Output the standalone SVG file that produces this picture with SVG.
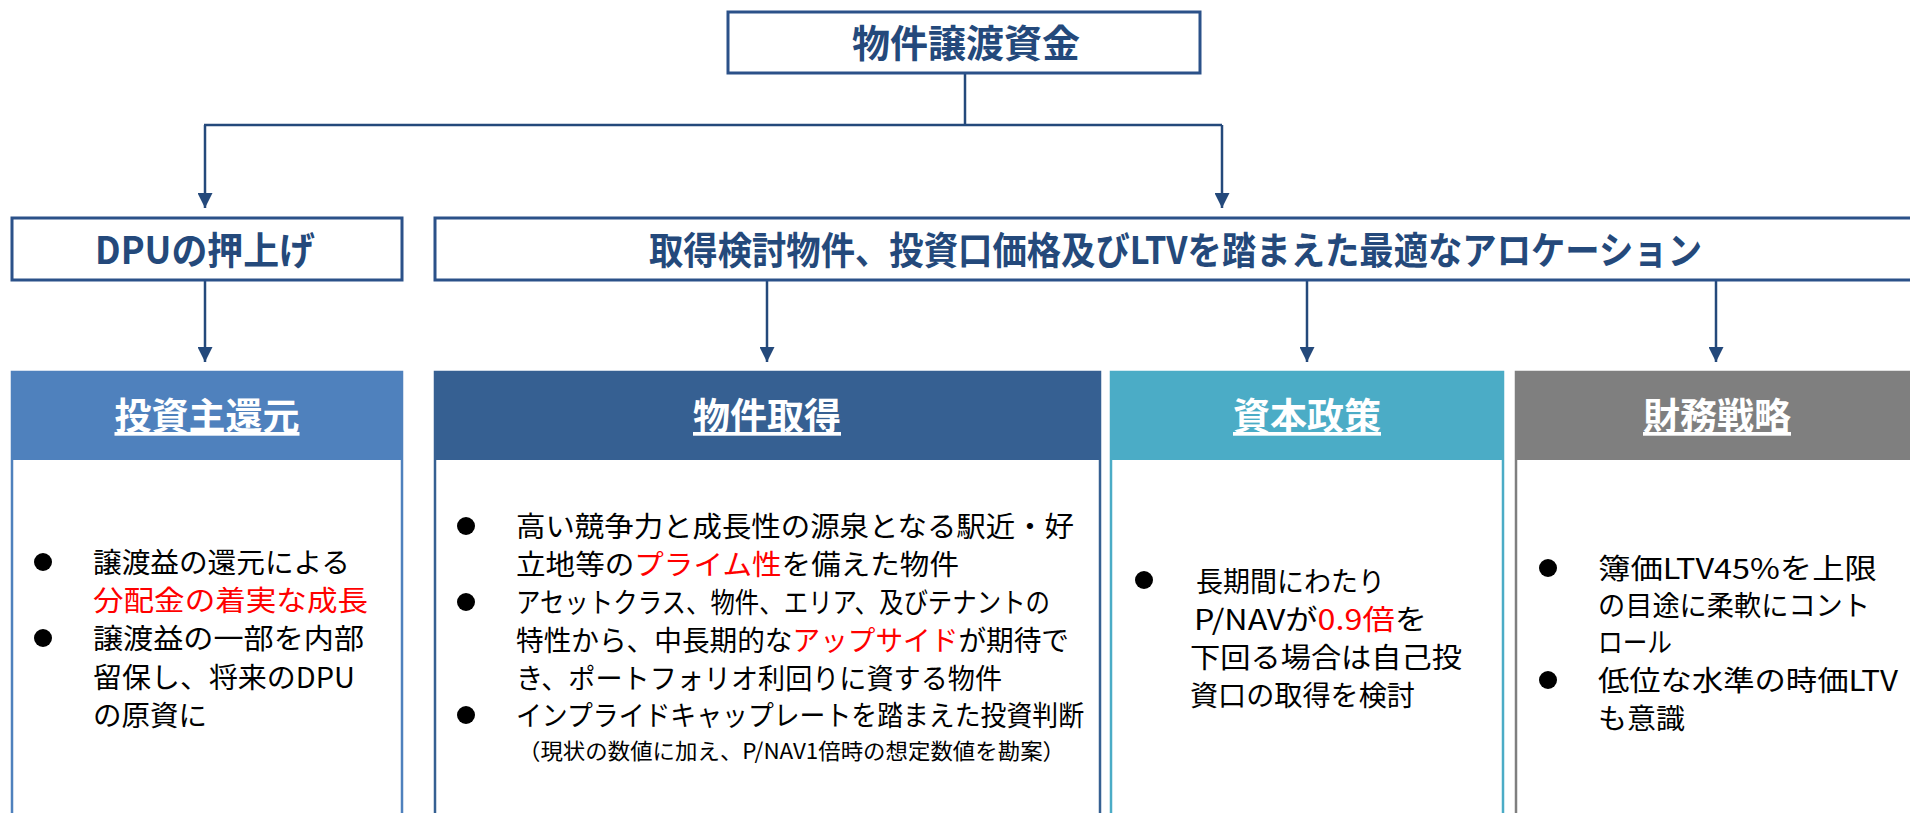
<svg xmlns="http://www.w3.org/2000/svg" width="1910" height="813" viewBox="0 0 1910 813">
<defs>
<style>
text{font-family:"Noto Sans CJK JP","Noto Sans",sans-serif;}
.ttl{font-weight:700;fill:#24497B;font-size:38px;}
.hd{font-weight:700;fill:#FFFFFF;font-size:37px;text-decoration:underline;}
.bd{font-size:28px;fill:#000000;}
.sm{font-size:22px;fill:#000000;}
.red{fill:#FF0000;}
.frame{fill:#FFFFFF;stroke:#2B5189;stroke-width:3;}
.conn{fill:none;stroke:#24497B;stroke-width:2.5;}
.dot{fill:#000000;}
</style>
<marker id="ah" viewBox="0 0 15 15" markerWidth="15" markerHeight="15" markerUnits="userSpaceOnUse" refX="15" refY="7.5" orient="auto">
<path d="M0,0 L15,7.5 L0,15 Z" fill="#24497B"/>
</marker>
</defs>
<rect width="1910" height="813" fill="#FFFFFF"/>

<g id="connectors">
<path class="conn" d="M965,73 V125"/>
<path class="conn" d="M204,125 H1222"/>
<path class="conn" d="M205,125 V208" marker-end="url(#ah)"/>
<path class="conn" d="M1222,125 V208" marker-end="url(#ah)"/>
<path class="conn" d="M205,280 V362" marker-end="url(#ah)"/>
<path class="conn" d="M767,280 V362" marker-end="url(#ah)"/>
<path class="conn" d="M1307,280 V362" marker-end="url(#ah)"/>
<path class="conn" d="M1716,280 V362" marker-end="url(#ah)"/>
</g>

<g id="node-source">
<rect class="frame" x="728" y="12" width="472" height="61"/>
<text class="ttl" x="966" y="57" text-anchor="middle">物件譲渡資金</text>
</g>

<g id="node-dpu">
<rect class="frame" x="12" y="218" width="390" height="62"/>
<text class="ttl" x="95" y="264" textLength="220" lengthAdjust="spacingAndGlyphs">DPUの押上げ</text>
</g>

<g id="node-allocation">
<rect class="frame" x="435" y="218" width="1500" height="62"/>
<text class="ttl" x="649" y="264" textLength="1053" lengthAdjust="spacingAndGlyphs">取得検討物件、投資口価格及びLTVを踏まえた最適なアロケーション</text>
</g>

<g id="node-return">
<rect x="12" y="372" width="390" height="460" fill="#FFFFFF" stroke="#4F81BD" stroke-width="2.5"/>
<rect x="12" y="372" width="390" height="88" fill="#4F81BD"/>
<text class="hd" x="207" y="430" text-anchor="middle">投資主還元</text>
<circle class="dot" cx="43" cy="562" r="9"/>
<circle class="dot" cx="43" cy="638" r="9"/>
<text class="bd" x="93" y="573" textLength="257" lengthAdjust="spacingAndGlyphs">譲渡益の還元による</text>
<text class="bd red" x="93" y="611" textLength="275" lengthAdjust="spacingAndGlyphs">分配金の着実な成長</text>
<text class="bd" x="93" y="649" textLength="271" lengthAdjust="spacingAndGlyphs">譲渡益の一部を内部</text>
<text class="bd" x="93" y="688" textLength="262" lengthAdjust="spacingAndGlyphs">留保し、将来のDPU</text>
<text class="bd" x="93" y="726" textLength="114" lengthAdjust="spacingAndGlyphs">の原資に</text>
</g>

<g id="node-acquisition">
<rect x="435" y="372" width="665" height="460" fill="#FFFFFF" stroke="#366092" stroke-width="2.5"/>
<rect x="435" y="372" width="665" height="88" fill="#366092"/>
<text class="hd" x="767" y="430" text-anchor="middle">物件取得</text>
<circle class="dot" cx="466" cy="526" r="9"/>
<circle class="dot" cx="466" cy="602" r="9"/>
<circle class="dot" cx="466" cy="715" r="9"/>
<text class="bd" x="516" y="537" textLength="558" lengthAdjust="spacingAndGlyphs">高い競争力と成長性の源泉となる駅近・好</text>
<text class="bd" x="516" y="575" textLength="443" lengthAdjust="spacingAndGlyphs">立地等の<tspan class="red">プライム性</tspan>を備えた物件</text>
<text class="bd" x="516" y="613" textLength="534" lengthAdjust="spacingAndGlyphs">アセットクラス、物件、エリア、及びテナントの</text>
<text class="bd" x="516" y="651" textLength="553" lengthAdjust="spacingAndGlyphs">特性から、中長期的な<tspan class="red">アップサイド</tspan>が期待で</text>
<text class="bd" x="516" y="689" textLength="486" lengthAdjust="spacingAndGlyphs">き、ポートフォリオ利回りに資する物件</text>
<text class="bd" x="516" y="726" textLength="568" lengthAdjust="spacingAndGlyphs">インプライドキャップレートを踏まえた投資判断</text>
<text class="sm" x="518" y="759" textLength="547" lengthAdjust="spacingAndGlyphs">（現状の数値に加え、P/NAV1倍時の想定数値を勘案）</text>
</g>

<g id="node-capital">
<rect x="1111" y="372" width="392" height="460" fill="#FFFFFF" stroke="#4BACC6" stroke-width="2.5"/>
<rect x="1111" y="372" width="392" height="88" fill="#4BACC6"/>
<text class="hd" x="1307" y="430" text-anchor="middle">資本政策</text>
<circle class="dot" cx="1144" cy="580" r="9"/>
<text class="bd" x="1196" y="592" textLength="189" lengthAdjust="spacingAndGlyphs">長期間にわたり</text>
<text class="bd" x="1194" y="630" textLength="233" lengthAdjust="spacingAndGlyphs">P/NAVが<tspan class="red">0.9倍</tspan>を</text>
<text class="bd" x="1190" y="668" textLength="272" lengthAdjust="spacingAndGlyphs">下回る場合は自己投</text>
<text class="bd" x="1190" y="706" textLength="225" lengthAdjust="spacingAndGlyphs">資口の取得を検討</text>
</g>

<g id="node-finance">
<rect x="1516" y="372" width="420" height="460" fill="#FFFFFF" stroke="#7F7F7F" stroke-width="2.5"/>
<rect x="1516" y="372" width="420" height="88" fill="#7F7F7F"/>
<text class="hd" x="1717" y="430" text-anchor="middle">財務戦略</text>
<circle class="dot" cx="1548" cy="568" r="9"/>
<circle class="dot" cx="1548" cy="680" r="9"/>
<text class="bd" x="1598" y="579" textLength="279" lengthAdjust="spacingAndGlyphs">簿価LTV45%を上限</text>
<text class="bd" x="1598" y="616" textLength="272" lengthAdjust="spacingAndGlyphs">の目途に柔軟にコント</text>
<text class="bd" x="1598" y="653" textLength="74" lengthAdjust="spacingAndGlyphs">ロール</text>
<text class="bd" x="1598" y="691" textLength="300" lengthAdjust="spacingAndGlyphs">低位な水準の時価LTV</text>
<text class="bd" x="1598" y="729" textLength="87" lengthAdjust="spacingAndGlyphs">も意識</text>
</g>
</svg>
